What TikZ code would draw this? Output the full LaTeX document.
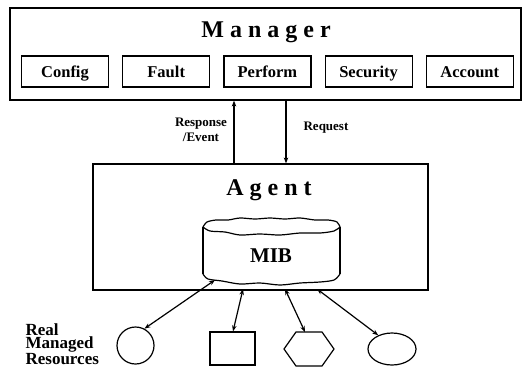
\documentclass[tikz,border=0pt]{standalone}
\usepackage{fontspec}
\setmainfont{Liberation Serif}
\usetikzlibrary{positioning,arrows.meta,shapes.geometric}

\begin{document}
\begin{tikzpicture}[
    x=1pt, y=-1pt,
    line width=1.2pt,
    every node/.style={font=\bfseries},
    bigbox/.style={draw, rectangle, inner sep=0pt},
    module/.style={draw, rectangle, minimum width=87pt, minimum height=31pt,
                   inner sep=0pt, text height=12pt, text depth=0pt,
                   font=\bfseries\fontsize{16.5}{18}\selectfont},
    title/.style={anchor=base, font=\bfseries\fontsize{24}{26}\selectfont},
    small/.style={font=\bfseries\fontsize{13}{15}\selectfont},
    arr/.style={-{Stealth[length=6pt,width=4.5pt]}},
    both/.style={{Stealth[length=6pt,width=4.5pt]}-{Stealth[length=6pt,width=4.5pt]}}]

\useasboundingbox (0,0) rectangle (526,370);

% manager
\node[bigbox, minimum width=511pt, minimum height=92pt] (manager) at (265.5,54) {};
\node[title] (mtitle) at (266,37) {M a n a g e r};
\node[module] (config) at (65,71.5) {Config};
\node[module, right=13pt of config] (fault) {Fault};
\node[module, right=13pt of fault] (perform) {Perform};
\node[module, right=13pt of perform] (security) {Security};
\node[module, right=13pt of security] (account) {Account};

% agent
\node[bigbox, minimum width=335pt, minimum height=126pt] (agent) at (260.5,227) {};
\node[title] (atitle) at (269,195) {A g e n t};

\coordinate (rsp) at (234,164);
\coordinate (req) at (286,100);
\draw[arr] (rsp) -- (rsp |- manager.south);
\draw[arr] (req) -- (req |- agent.north);
\node[small, align=center] (rsplabel) at (201,130) {Response\\/Event};
\node[small, anchor=west, inner sep=0pt] (reqlabel) at (303,128) {Request};

% MIB
\draw plot[smooth] coordinates {(203,227) (207,222) (216,220) (228,220) (240,218)
    (255,219) (270,218) (285,219) (300,218) (315,220) (328,220) (337,222) (340,227)};
\draw plot[smooth] coordinates {(203,227) (210,231) (225,232) (240,235) (260,234)
    (280,235) (300,233) (320,233) (334,231) (340,227)};
\draw (203,227) -- (203,274) (340,227) -- (340,274);
\draw plot[smooth] coordinates {(203,274) (208,279) (222,281) (240,284) (260,283)
    (280,285) (300,283) (320,282) (334,280) (340,274)};
\node[anchor=base, font=\bfseries\fontsize{21}{23}\selectfont] (mib) at (271,262) {MIB};

% resources
\node[font=\bfseries\fontsize{17}{13.5}\selectfont, align=left, anchor=west, inner sep=0pt]
    (reslabel) at (25,344) {Real\\Managed\\Resources};
\node[draw, circle, minimum size=37pt, inner sep=0pt] (res1) at (135.5,345.5) {};
\node[draw, rectangle, minimum width=45pt, minimum height=33pt, inner sep=0pt] (res2) at (232.5,348.5) {};
\draw (284,349) -- (296,332) -- (322,332) -- (334,349) -- (322,366) -- (296,366) -- cycle;
\coordinate (res3) at (305,332);
\node[draw, ellipse, minimum width=48pt, minimum height=32pt, inner sep=0pt] (res4) at (392,349) {};

\coordinate (m1) at (215,280);
\coordinate (m2) at (243,289);
\coordinate (m3) at (285,289);
\coordinate (m4) at (317,289);
\draw[both] (m1) -- (res1.62);
\draw[both] (m2) -- (res2.north -| 233,0);
\draw[both] (m3) -- (res3);
\draw[both] (m4) -- (res4.135);

\end{tikzpicture}
\end{document}
